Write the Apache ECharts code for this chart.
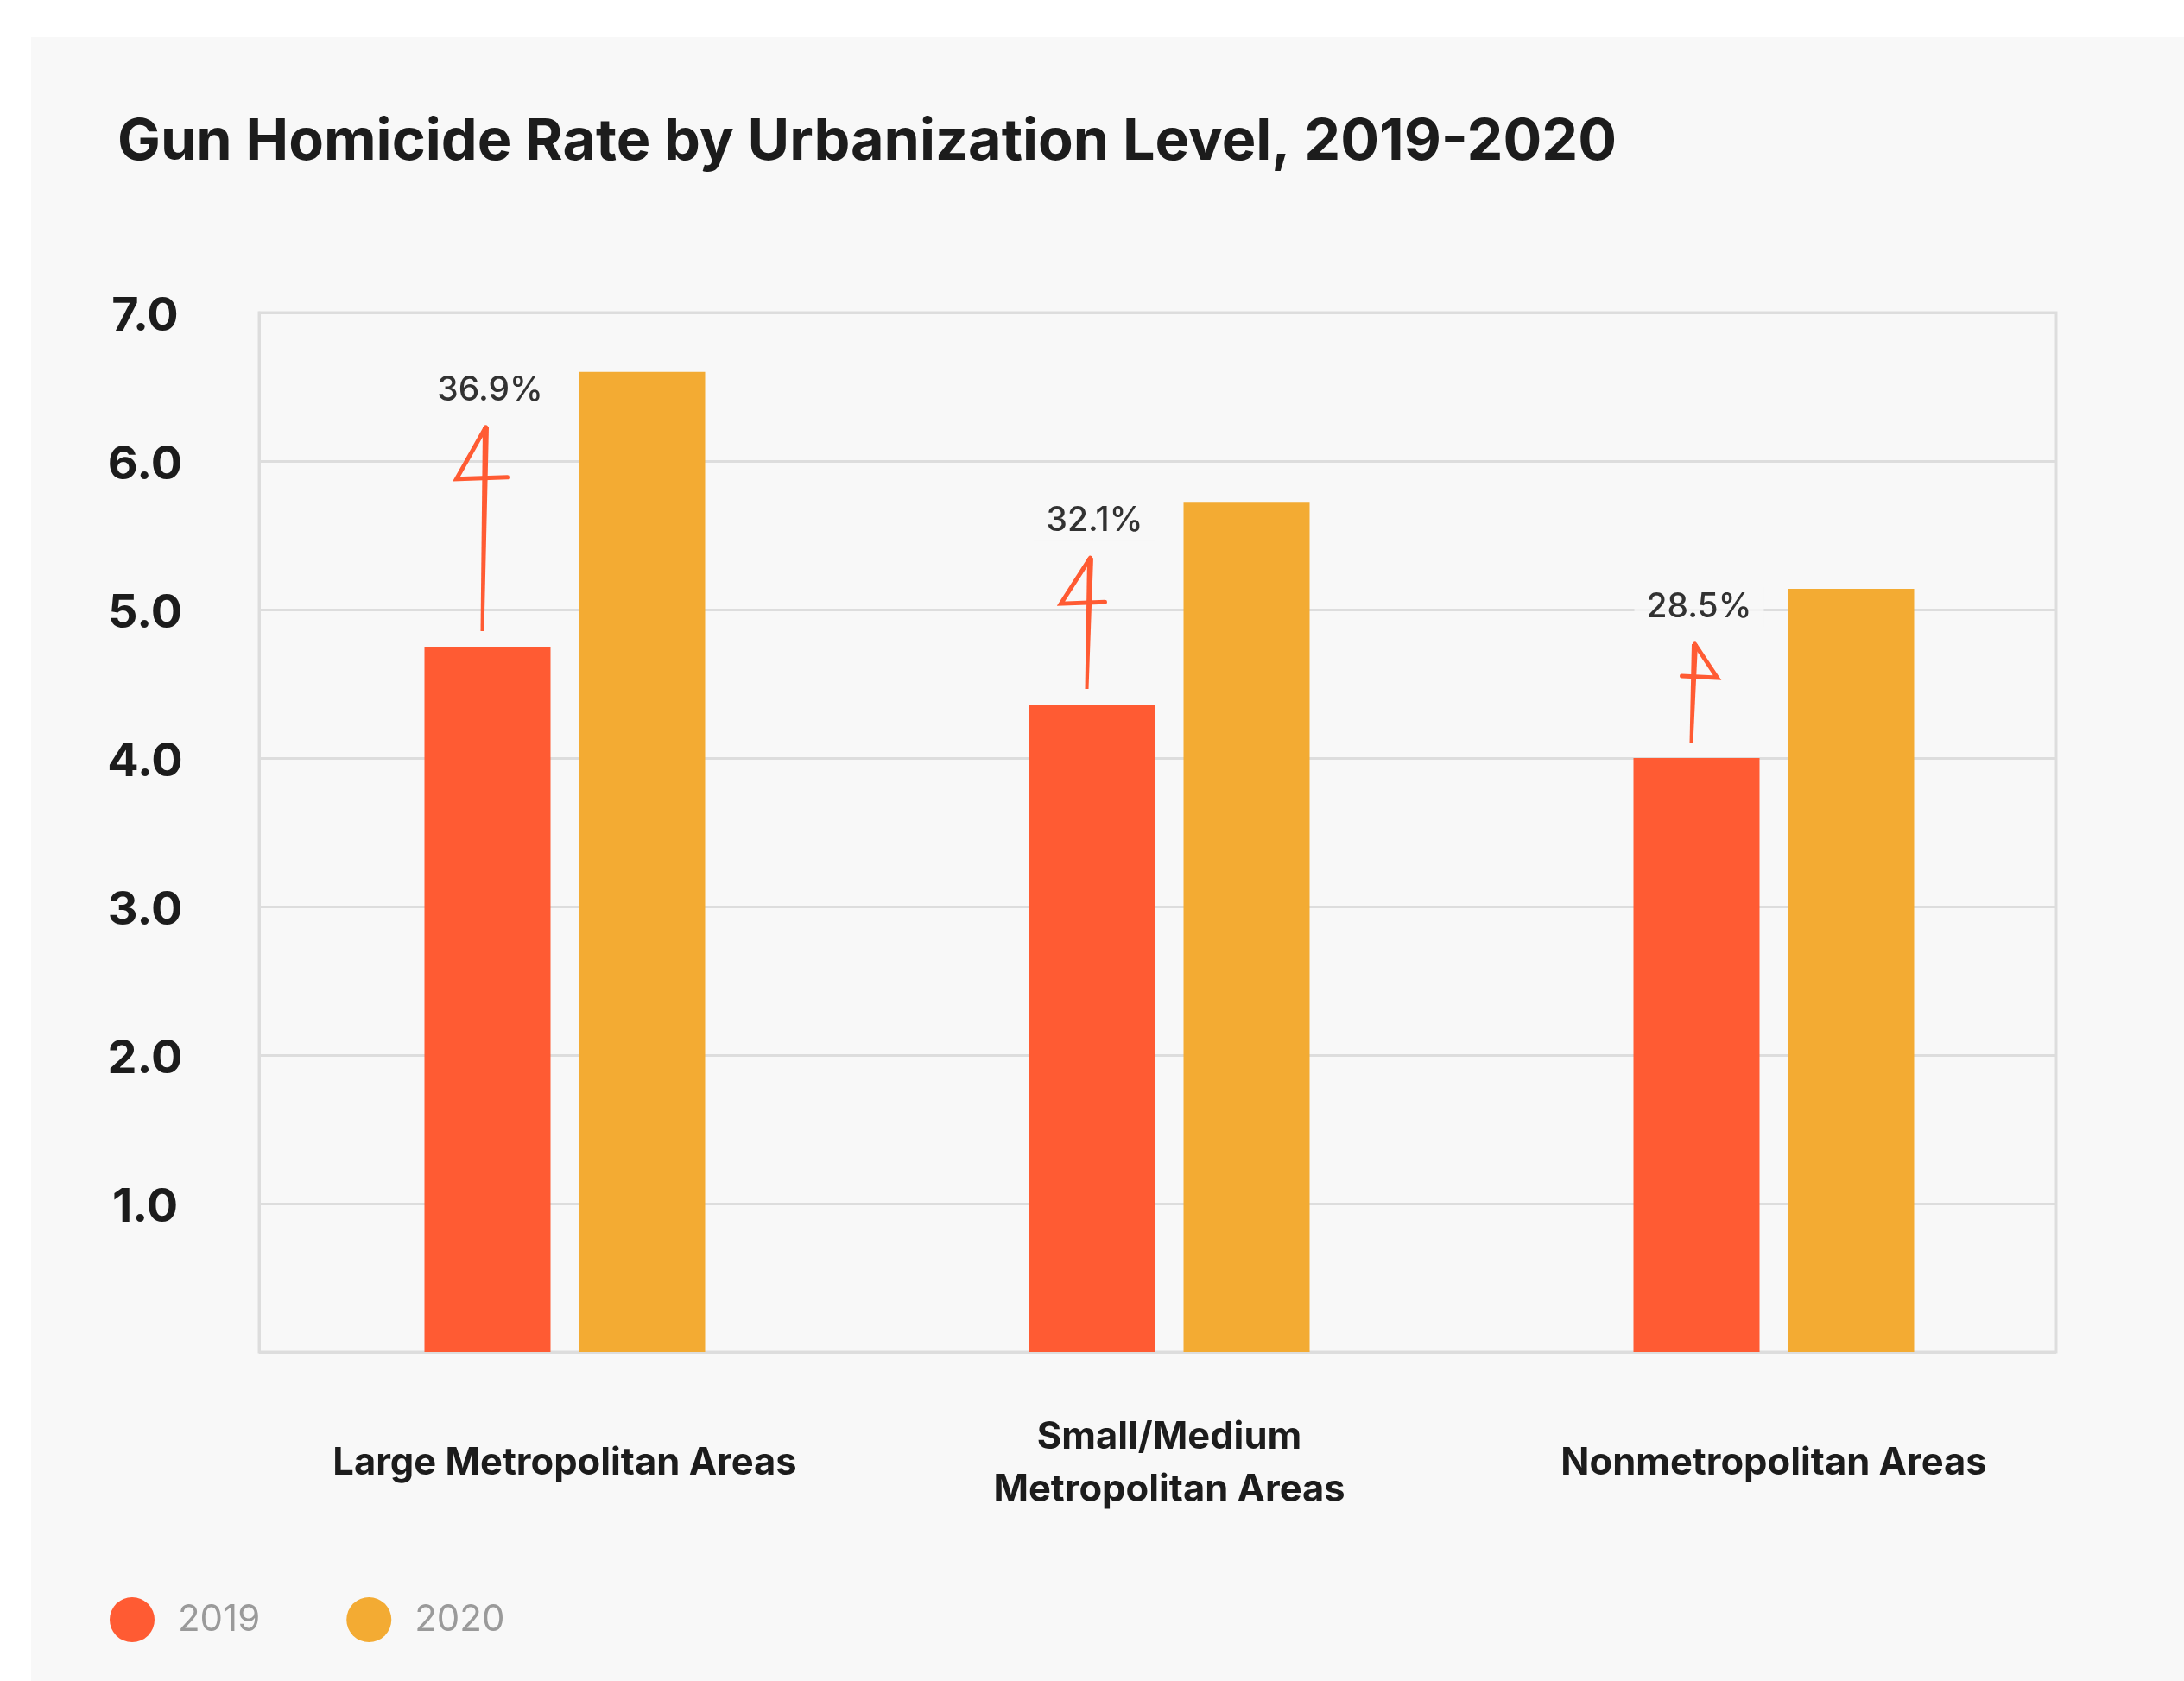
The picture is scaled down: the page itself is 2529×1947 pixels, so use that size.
<!DOCTYPE html>
<html>
<head>
<meta charset="utf-8">
<script src="https://cdn.jsdelivr.net/npm/echarts@6/dist/echarts.min.js"></script>
<style>
  html, body { margin: 0; padding: 0; background: #ffffff; }
  #chart { width: 2529px; height: 1947px; }
</style>
</head>
<body>
<div id="chart"></div>
<script>
// ---- data ----
const categories = ['Large Metropolitan Areas', 'Small/Medium\nMetropolitan Areas', 'Nonmetropolitan Areas'];
const values2019 = [4.75, 4.36, 4.0];
const values2020 = [6.6, 5.72, 5.14];
const changeLabels = ['36.9%', '32.1%', '28.5%'];
const yTicks = [0, 1, 2, 3, 4, 5, 6, 7];
const seriesNames = ['2019', '2020'];

// ---- styles ----
const RED = '#FF5B33';
const YELLOW = '#F3AB33';
const GRIDLINE = '#dddddd';
const FONT = 'Inter';
const BAR_W = 146;
const BAR_GAP = 33;
const redOffset = -(BAR_W + BAR_GAP) / 2;
// arrow head shapes (dir: -1 flag to left, 1 flag to right)
const heads = [
  { dir: -1, h: 60, w: 34, tail: 25 },
  { dir: -1, h: 53, w: 34, tail: 17 },
  { dir: 1, h: 39, w: 26, tail: 15 }
];

const chart = echarts.init(document.getElementById('chart'), null, { renderer: 'canvas' });

const option = {
  backgroundColor: '#ffffff',
  animation: false,
  graphic: [{
    type: 'rect', z: -100, silent: true,
    shape: { x: 36, y: 43, width: 2529 - 36, height: 1947 - 43 },
    style: { fill: '#f8f8f8' }
  }],
  title: {
    text: 'Gun Homicide Rate by Urbanization Level, 2019-2020',
    left: 131, top: 126,
    textStyle: { fontFamily: FONT, fontSize: 66.5, fontWeight: 700, color: '#1c1c1c' }
  },
  legend: {
    data: seriesNames,
    left: 122, top: 1845,
    icon: 'circle', itemWidth: 52, itemHeight: 52, itemGap: 100,
    textStyle: { fontFamily: FONT, fontSize: 42, color: '#9a9a9a', padding: [0, 0, 0, 22] }
  },
  grid: [
    { left: 300, top: 362, width: 2081, height: 1204, show: true, borderColor: GRIDLINE, borderWidth: 3, backgroundColor: 'transparent' },
    { left: 304, top: 362, width: 2100, height: 1204 }
  ],
  xAxis: [
    { gridIndex: 0, type: 'value', min: 0, max: 1, show: false },
    {
      gridIndex: 1, type: 'category', data: categories,
      axisLine: { show: false }, axisTick: { show: false },
      axisLabel: {
        interval: 0, margin: 129, verticalAlign: 'middle',
        fontFamily: FONT, fontSize: 43.5, fontWeight: 700, color: '#1c1c1c', lineHeight: 61
      }
    }
  ],
  yAxis: [
    {
      gridIndex: 0, type: 'value', min: yTicks[0], max: yTicks[yTicks.length - 1], interval: 1,
      axisLine: { show: true, lineStyle: { color: GRIDLINE, width: 3 } },
      axisTick: { show: false },
      splitLine: { show: true, lineStyle: { color: GRIDLINE, width: 3 } },
      axisLabel: {
        margin: 132, align: 'center', verticalAlign: 'middle',
        formatter: v => (v === 0 ? '' : '{t|' + v.toFixed(1) + '}'),
        rich: {
          t: {
            fontFamily: FONT, fontSize: 54, fontWeight: 700, color: '#1c1c1c',
            lineHeight: 54, padding: [10, 0, 0, 0], align: 'center'
          }
        }
      }
    },
    { gridIndex: 1, type: 'value', min: yTicks[0], max: yTicks[yTicks.length - 1], show: false }
  ],
  series: [
    {
      name: seriesNames[0], type: 'bar', xAxisIndex: 1, yAxisIndex: 1,
      data: values2019, barWidth: BAR_W, barGap: (BAR_GAP / BAR_W * 100) + '%',
      itemStyle: { color: RED }
    },
    {
      name: seriesNames[1], type: 'bar', xAxisIndex: 1, yAxisIndex: 1,
      data: values2020, barWidth: BAR_W,
      itemStyle: { color: YELLOW }
    },
    {
      name: 'arrows', type: 'custom', xAxisIndex: 1, yAxisIndex: 1, z: 5, silent: true,
      data: categories.map((c, i) => [i, values2019[i], values2020[i]]),
      renderItem: function (params, api) {
        const i = api.value(0);
        const pBot = api.coord([i, api.value(1)]);
        const pTop = api.coord([i, api.value(2)]);
        const xc = pBot[0] + redOffset;
        const yb = pBot[1] - 18;
        const yt = pTop[1] + 64;
        const xb = xc - 6;
        const xt = xc - 2;
        const hd = heads[i];
        const hy = yt + hd.h;
        const headPts = [
          [xt, yt],
          [xt + hd.dir * hd.w, hy],
          [xt - hd.dir * hd.tail, hy - 2]
        ];
        return {
          type: 'group',
          children: [
            {
              type: 'polygon',
              shape: { points: [[xb - 2, yb], [xb + 2, yb], [xt + 3.5, yt], [xt - 3.5, yt]] },
              style: { fill: RED }
            },
            {
              type: 'polyline',
              shape: { points: headPts },
              style: { stroke: RED, lineWidth: 5, fill: null, lineJoin: 'miter', lineCap: 'round' }
            }
          ]
        };
      }
    },
    {
      name: 'change', type: 'scatter', xAxisIndex: 1, yAxisIndex: 1, z: 6, silent: true,
      data: values2020, symbolSize: 1, itemStyle: { color: 'rgba(0,0,0,0)' },
      label: {
        show: true, position: 'inside', offset: [redOffset + 3, 21],
        formatter: p => changeLabels[p.dataIndex],
        fontFamily: FONT, fontSize: 39, fontWeight: 500, color: '#000000',
        backgroundColor: '#f8f8f8', padding: [4, 14]
      }
    }
  ]
};

chart.setOption(option);
</script>
</body>
</html>
